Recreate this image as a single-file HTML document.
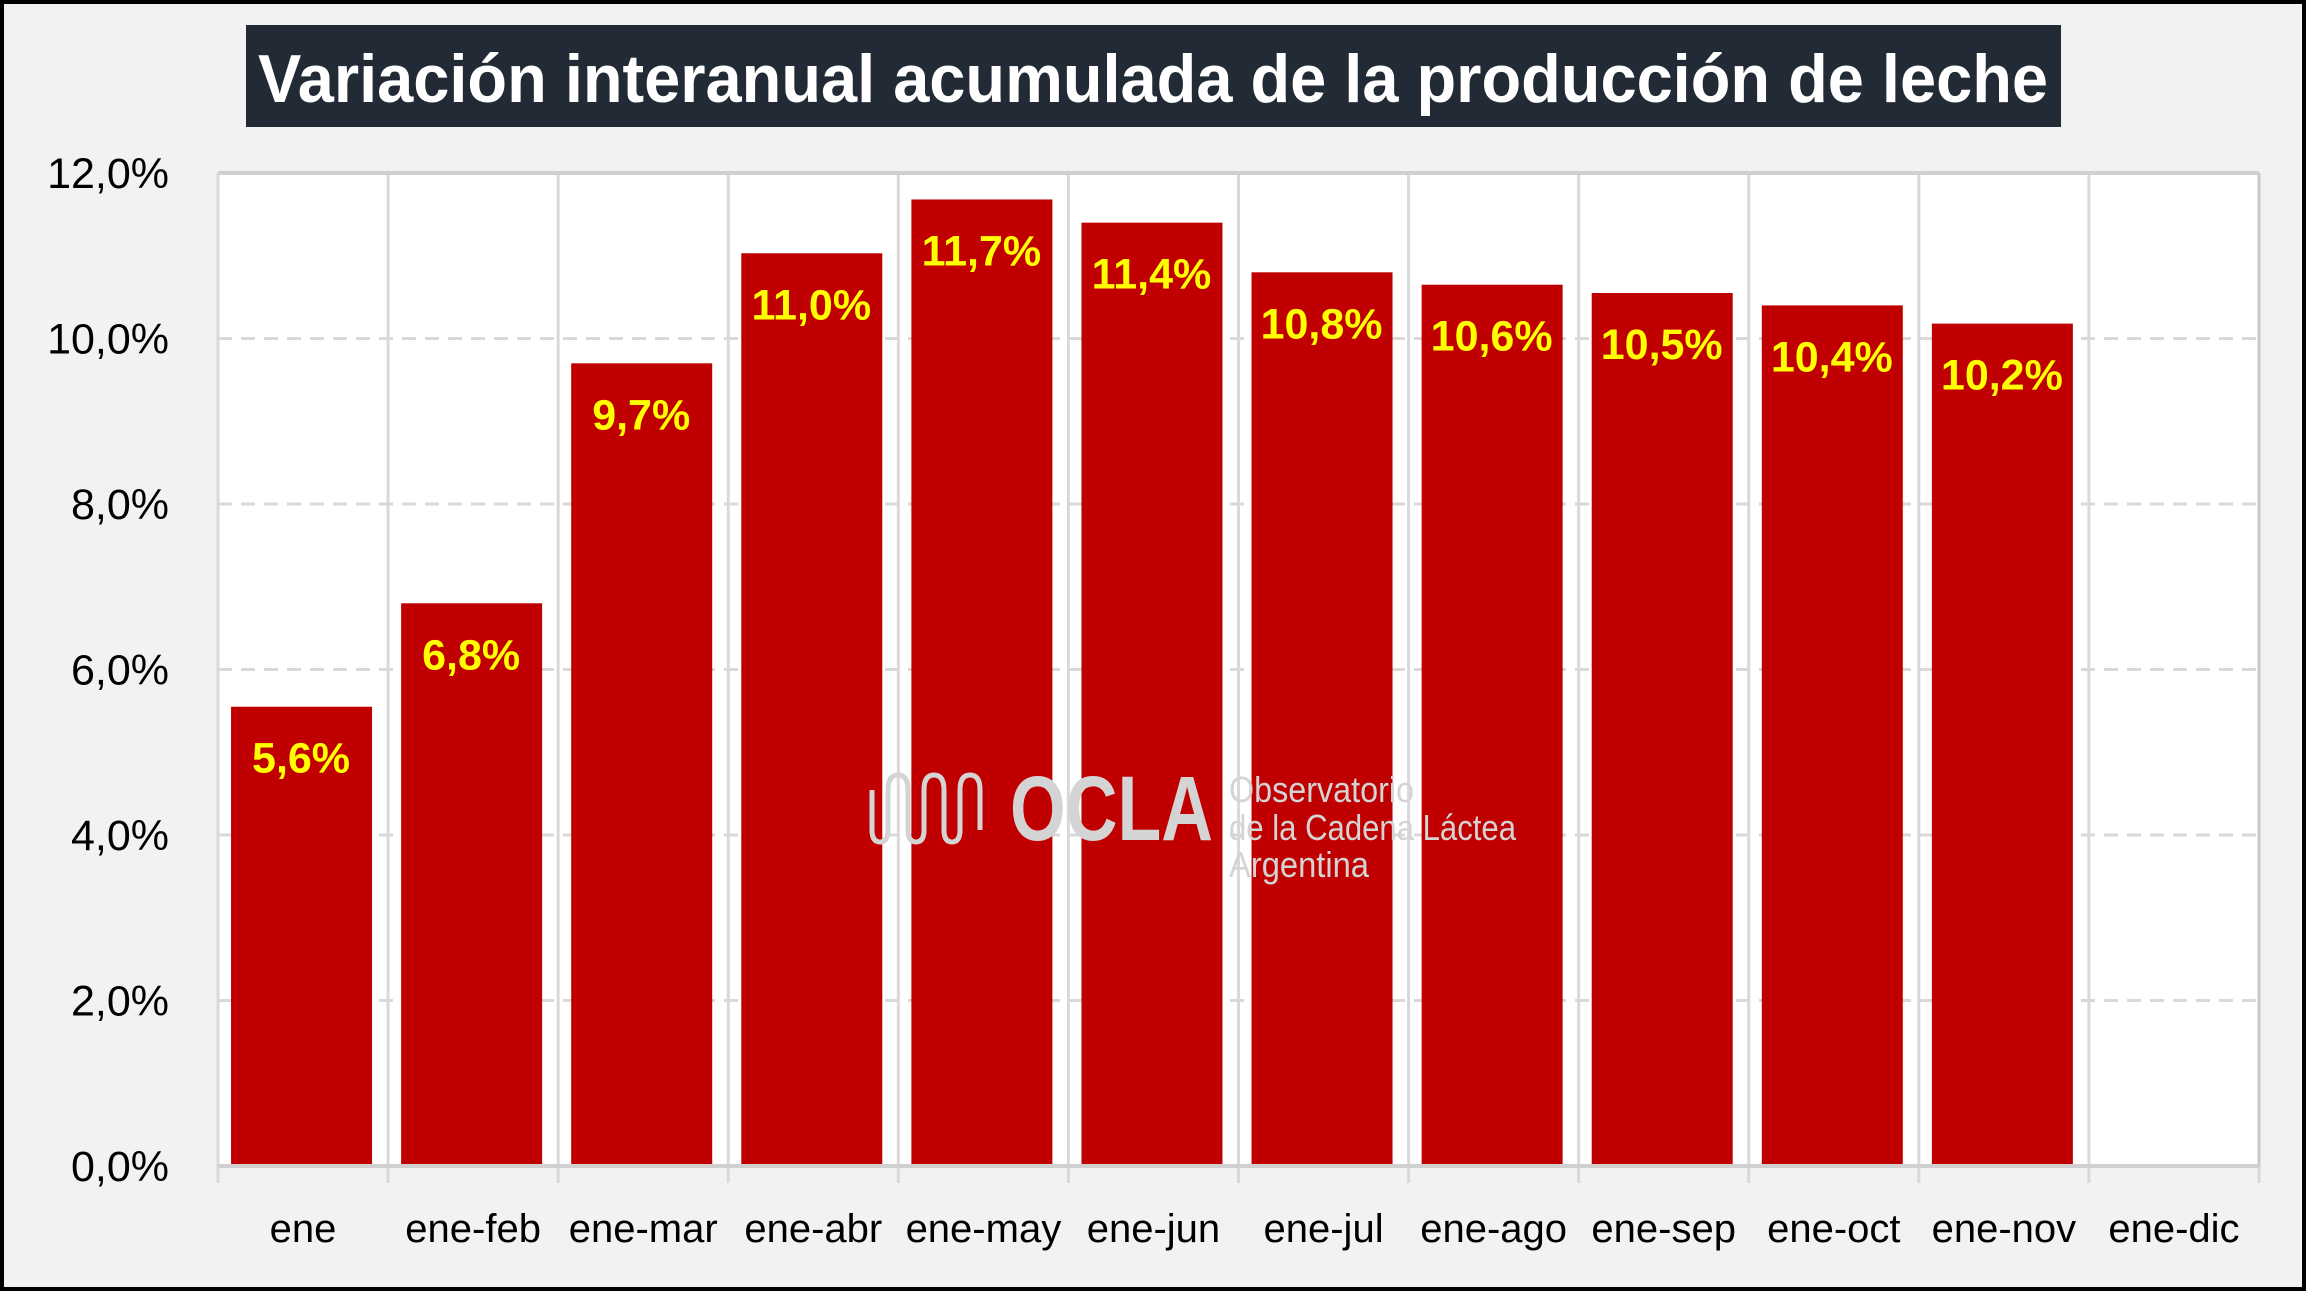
<!DOCTYPE html>
<html><head><meta charset="utf-8"><style>
html,body{margin:0;padding:0;background:#f2f2f2;}
svg{display:block;font-family:"Liberation Sans",sans-serif;}
</style></head><body>
<svg id="chart" width="2306" height="1291" viewBox="0 0 2306 1291">
<rect x="2" y="2" width="2302" height="1287" fill="#f2f2f2" stroke="#000" stroke-width="4"/>
<rect x="246" y="25" width="1815" height="102" fill="#222a35"/>
<text x="1153" y="102" text-anchor="middle" font-size="68" font-weight="bold" fill="#fff" textLength="1790" lengthAdjust="spacingAndGlyphs">Variación interanual acumulada de la producción de leche</text>
<rect x="218" y="173" width="2041" height="993" fill="#fff"/>
<g id="grid"></g>
<g id="bars"></g>
<g id="watermark">
<path d="M872 790 v40 q0 12 8 12 q8 0 8-12 v-40 q0-15 10-15 q10 0 10 15 v40 q0 12 8 12 q8 0 8-12 v-40 q0-15 10-15 q10 0 10 15 v40 q0 12 8 12 q8 0 8-12 v-40 q0-15 10-15 q10 0 10 15 v40" fill="none" stroke="#d4d4d4" stroke-width="5"/>
<text x="1010" y="840" font-size="92" font-weight="bold" fill="#d4d4d4" textLength="203" lengthAdjust="spacingAndGlyphs">OCLA</text>
<text x="1229" y="802" font-size="36" fill="#d4d4d4" textLength="185" lengthAdjust="spacingAndGlyphs">Observatorio</text>
<text x="1229" y="840" font-size="36" fill="#d4d4d4" textLength="287" lengthAdjust="spacingAndGlyphs">de la Cadena Láctea</text>
<text x="1229" y="877" font-size="36" fill="#d4d4d4" textLength="140" lengthAdjust="spacingAndGlyphs">Argentina</text>
</g>
<g id="axes"></g>
</svg>
<script>
const categories = ["ene","ene-feb","ene-mar","ene-abr","ene-may","ene-jun","ene-jul","ene-ago","ene-sep","ene-oct","ene-nov","ene-dic"];
const values = [5.55, 6.8, 9.7, 11.03, 11.68, 11.4, 10.8, 10.65, 10.55, 10.4, 10.18, null];
const valueLabels = ["5,6%","6,8%","9,7%","11,0%","11,7%","11,4%","10,8%","10,6%","10,5%","10,4%","10,2%",""];
const yTicks = [0,2,4,6,8,10,12];
const yTickLabels = ["0,0%","2,0%","4,0%","6,0%","8,0%","10,0%","12,0%"];

const NS="http://www.w3.org/2000/svg";
const L=218,R=2259,T=173,B=1166,YMAX=12;
const cw=(R-L)/categories.length;
const y=v=>B-(v/YMAX)*(B-T);
const xc=i=>L+cw*(i+0.5);
function mk(tag,attrs,parent){const e=document.createElementNS(NS,tag);for(const k in attrs)e.setAttribute(k,attrs[k]);parent.appendChild(e);return e;}
const grid=document.getElementById('grid'),bars=document.getElementById('bars'),axes=document.getElementById('axes');

yTicks.forEach((t,i)=>{
  if(t>0&&t<YMAX){
    const g=mk('line',{x1:L,x2:R,y1:y(t),y2:y(t),stroke:'#d9d9d9','stroke-width':3,'stroke-dasharray':'14 9'},grid);
    
    
  }
  const tl=mk('text',{x:169,y:y(t)+15,'text-anchor':'end','font-size':43,fill:'#000'},axes);
  tl.textContent=yTickLabels[i];
  
  
});
for(let i=0;i<=categories.length;i++){
  const x=L+cw*i;
  const v=mk('line',{x1:x,x2:x,y1:T,y2:B+17,stroke:'#d9d9d9','stroke-width':3},grid);
  
  
}
const tb=mk('line',{x1:L,x2:R,y1:T,y2:T,stroke:'#d0d0d0','stroke-width':4},grid);


const rb=mk('line',{x1:R,x2:R,y1:T,y2:B,stroke:'#c8c8c8','stroke-width':3},grid);



categories.forEach((c,i)=>{
  const v=values[i];
  if(v!==null){
    const r=mk('rect',{x:xc(i)-70-2,y:y(v),width:141,height:B-y(v),fill:'#c00000'},bars);
    
    
    const lt=mk('text',{x:xc(i)-2,y:y(v)+66,'text-anchor':'middle','font-size':43,'font-weight':'bold',fill:'#ffff00'},bars);
    lt.textContent=valueLabels[i];
    
    
  }
  const xl=mk('text',{x:xc(i),y:1242,'text-anchor':'middle','font-size':40,fill:'#000'},axes);
  xl.textContent=c;
  
  
});
const ax=mk('line',{x1:L,x2:R,y1:B,y2:B,stroke:'#d0d0d0','stroke-width':4},axes);


</script>
</body></html>
